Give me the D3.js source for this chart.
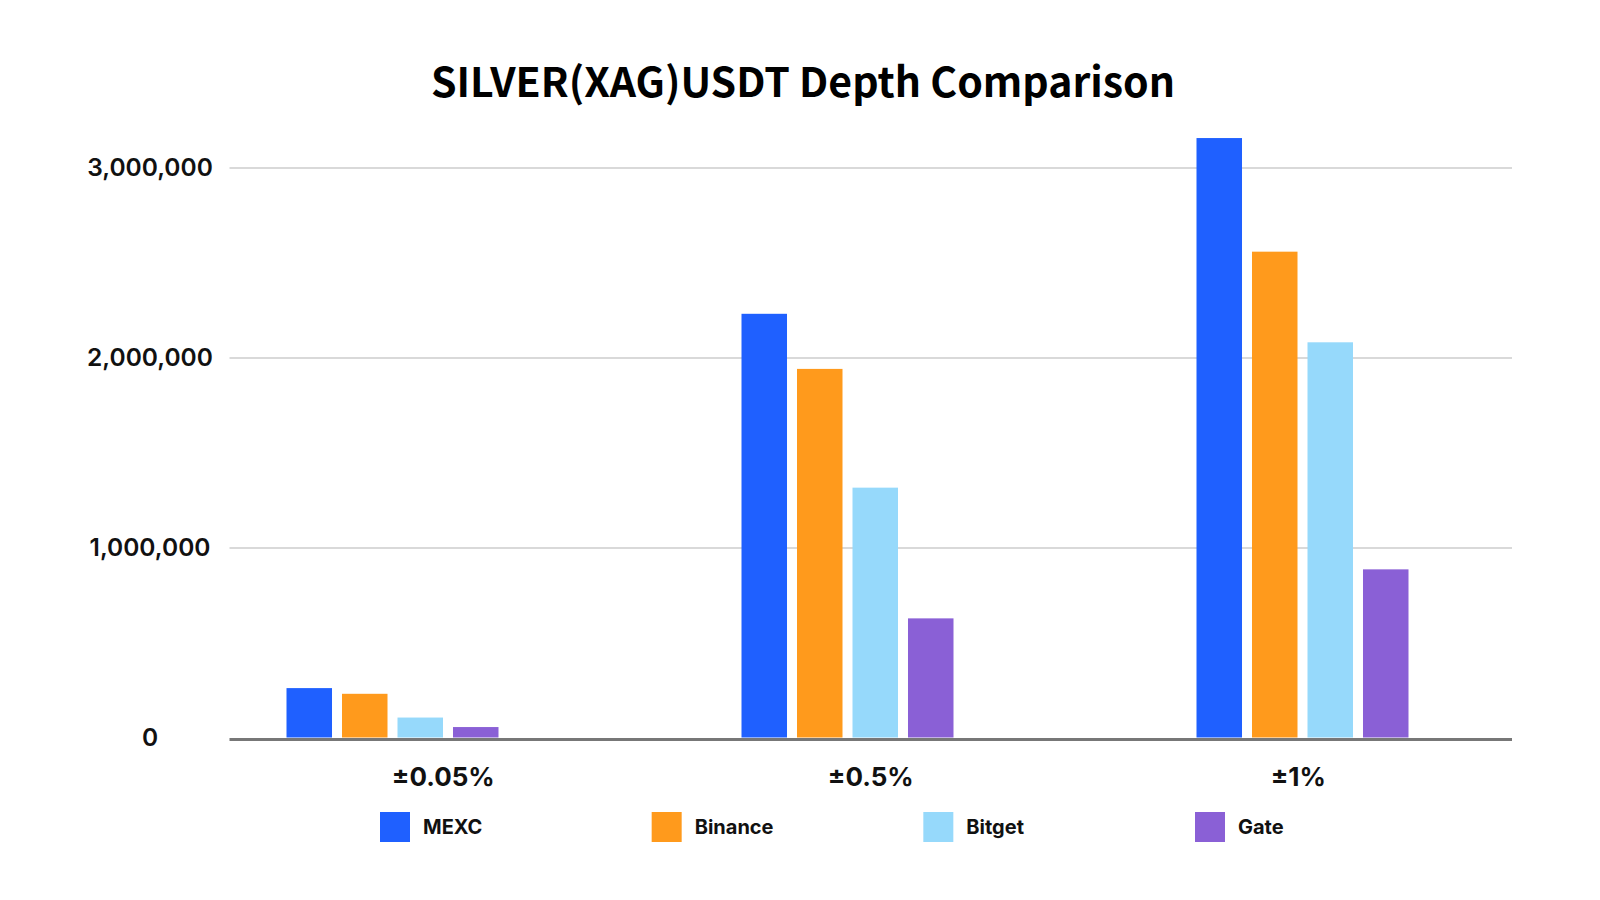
<!DOCTYPE html>
<html>

<head>
    <meta charset="utf-8">
    <style>
        body {
            margin: 0;
            background: #fff;
        }

        svg {
            display: block;
            background: #fff;
        }

        .title {
            font-family: 'Noto Sans CJK SC', 'Noto Sans', sans-serif;
            font-weight: 700;
            font-size: 41px;
            fill: #000;
        }

        .y-axis text {
            font-family: Inter, 'Noto Sans', sans-serif;
            font-weight: 600;
            font-size: 24.5px;
            fill: #111;
        }

        .x-axis text {
            font-family: Inter, 'Noto Sans', sans-serif;
            font-weight: 700;
            font-size: 26px;
            fill: #111;
        }

        .legend text {
            font-family: Inter, 'Noto Sans', sans-serif;
            font-weight: 700;
            font-size: 20px;
            fill: #111;
        }
    </style>
</head>

<body>
    <svg width="1600" height="900"></svg>

    <script src="https://d3js.org/d3.v7.min.js"></script>
    <script>
        // data
        let categories = ["±0.05%", "±0.5%", "±1%"];
        let exchanges = ["MEXC", "Binance", "Bitget", "Gate"];
        let mexc = [260000, 2230000, 3155000];
        let binance = [230000, 1940000, 2557000];
        let bitget = [105000, 1315000, 2080000];
        let gate = [55000, 627000, 885000];
        let yTicks = [0, 1000000, 2000000, 3000000];
        let colors = ["#1f60ff", "#ff9a1c", "#96d9fb", "#8a60d6"];

        let seriesValues = [mexc, binance, bitget, gate];

        let width = 1600;
        let height = 900;
        let margin = { top: 167.5, right: 88, bottom: 162.5, left: 229.5 };
        let groupWidth = 212;

        let svg = d3.select("svg");

        // rows for the grouped bars
        let rows = categories.map(function (c, i) {
            return {
                category: c,
                values: exchanges.map(function (e, j) {
                    return { exchange: e, value: seriesValues[j][i] };
                })
            };
        });

        // labels sit in even bands across the plot
        let x0 = d3.scaleBand()
            .domain(categories)
            .range([margin.left, width - margin.right])
            .padding(0);

        // the bar groups in the original are spread a bit tighter than the labels
        let xGroup = d3.scaleBand()
            .domain(categories)
            .range([165, 1530])
            .padding(0);

        let x1 = d3.scaleBand()
            .domain(exchanges)
            .range([0, groupWidth])
            .paddingInner(0.18);

        let y = d3.scaleLinear()
            .domain([0, 3000000])
            .range([height - margin.bottom, margin.top]);

        let color = d3.scaleOrdinal()
            .domain(exchanges)
            .range(colors);

        // title
        svg.append("text")
            .attr("class", "title")
            .attr("x", 803)
            .attr("y", 97)
            .attr("text-anchor", "middle")
            .text("SILVER(XAG)USDT Depth Comparison");

        // y axis with gridlines
        let yAxis = svg.append("g")
            .attr("class", "y-axis")
            .attr("transform", `translate(${margin.left},0)`)
            .call(d3.axisLeft(y)
                .tickValues(yTicks)
                .tickFormat(d3.format(","))
                .tickSize(-(width - margin.right - margin.left)));

        yAxis.select(".domain").remove();
        yAxis.selectAll(".tick line")
            .attr("stroke", "#cccccc")
            .attr("stroke-width", 1.5)
            .filter(d => d === 0)
            .remove();
        yAxis.selectAll(".tick text")
            .attr("x", 150 - margin.left)
            .attr("text-anchor", "middle");

        // bars
        svg.append("g")
            .selectAll("g")
            .data(rows)
            .join("g")
            .attr("transform", d => `translate(${xGroup(d.category) + (xGroup.bandwidth() - groupWidth) / 2},0)`)
            .selectAll("rect")
            .data(d => d.values)
            .join("rect")
            .attr("x", d => x1(d.exchange))
            .attr("y", d => y(d.value))
            .attr("width", x1.bandwidth())
            .attr("height", d => y(0) - y(d.value))
            .attr("fill", d => color(d.exchange));

        // baseline
        svg.append("line")
            .attr("x1", margin.left)
            .attr("x2", width - margin.right)
            .attr("y1", y(0) + 2)
            .attr("y2", y(0) + 2)
            .attr("stroke", "#777777")
            .attr("stroke-width", 3);

        // category labels
        let xAxis = svg.append("g")
            .attr("class", "x-axis")
            .attr("transform", `translate(0,${y(0)})`)
            .call(d3.axisBottom(x0).tickSize(0));

        xAxis.select(".domain").remove();
        xAxis.selectAll(".tick text")
            .attr("y", 48)
            .attr("dy", 0);

        // legend
        let lx = d3.scalePoint()
            .domain(exchanges)
            .range([380, 1195]);

        let legend = svg.append("g")
            .attr("class", "legend")
            .selectAll("g")
            .data(exchanges)
            .join("g")
            .attr("transform", d => `translate(${lx(d)},812)`);

        legend.append("rect")
            .attr("width", 30)
            .attr("height", 30)
            .attr("fill", d => color(d));

        legend.append("text")
            .attr("x", 43)
            .attr("y", 22)
            .text(d => d);
    </script>
</body>

</html>
